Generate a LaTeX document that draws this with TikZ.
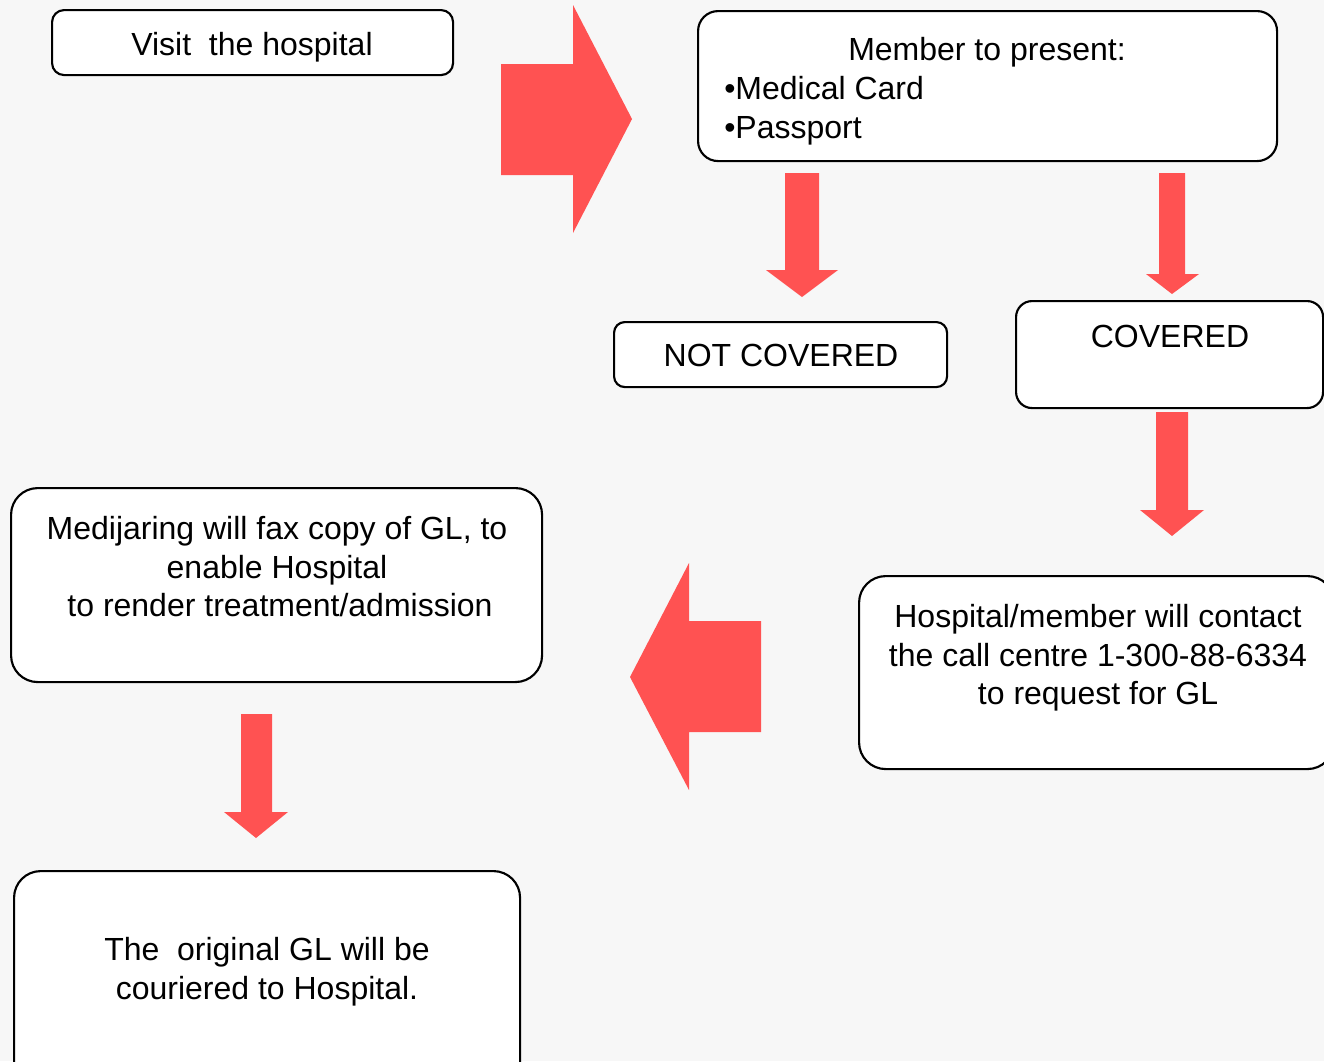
\documentclass[tikz,border=0pt]{standalone}
\usepackage{fontspec}
\setmainfont{Liberation Sans}
\definecolor{bg}{RGB}{247,247,247}
\definecolor{arr}{RGB}{255,82,82}
\begin{document}
\begin{tikzpicture}[x=0.75pt,y=-0.75pt,
  box/.style={draw=black,line width=1.6pt,fill=white,rectangle,inner sep=0pt,anchor=north west},
  txt/.style={font=\fontsize{24}{29}\selectfont,inner sep=0pt,anchor=base},
  blockarrow/.style={fill=arr,draw=none}]
\fill[bg] (0,0) rectangle (1324,1061);
\useasboundingbox (0,0) rectangle (1324,1061);

% boxes
\node[box,rounded corners=9pt,minimum width=401*0.75pt,minimum height=65*0.75pt] (visit) at (51,9) {};
\node[box,rounded corners=15pt,minimum width=579*0.75pt,minimum height=150*0.75pt] (member) at (697,10) {};
\node[box,rounded corners=8pt,minimum width=333*0.75pt,minimum height=65*0.75pt] (notcov) at (613,321) {};
\node[box,rounded corners=12pt,minimum width=307*0.75pt,minimum height=107*0.75pt] (cov) at (1015,300) {};
\node[box,rounded corners=20pt,minimum width=475*0.75pt,minimum height=193*0.75pt] (hosp) at (858,575) {};
\node[box,rounded corners=20pt,minimum width=531*0.75pt,minimum height=194*0.75pt] (medi) at (10,487) {};
\node[box,rounded corners=20pt,minimum width=506*0.75pt,minimum height=220*0.75pt] (orig) at (13,870) {};

% texts
\node[txt] (visitt) at (252,55) {Visit\ \ the hospital};
\node[txt] (memt1) at (987,60) {Member to present:};
\node[txt,anchor=base west] (memt2) at (724,99) {•Medical Card};
\node[txt,anchor=base west] (memt3) at (724,138) {•Passport};
\node[txt] (notcovt) at (781,366) {NOT COVERED};
\node[txt] (covt) at (1170,347) {COVERED};
\node[txt] (hospt1) at (1098,627) {Hospital/member will contact};
\node[txt] (hospt2) at (1098,666) {the call centre 1-300-88-6334};
\node[txt] (hospt3) at (1098,704) {to request for GL};
\node[txt] (medit1) at (277,539) {Medijaring will fax copy of GL, to};
\node[txt] (medit2) at (277,578) {enable Hospital};
\node[txt] (medit3) at (280,616) {to render treatment/admission};
\node[txt] (origt1) at (267,960) {The\ \ original GL will be};
\node[txt] (origt2) at (267,999) {couriered to Hospital.};

% block arrows
\fill[blockarrow] (501,64) -- (573,64) -- (573,5) -- (632,119) -- (573,233) -- (573,175) -- (501,175) -- cycle;
\fill[blockarrow] (785,173) -- (819,173) -- (819,270) -- (838,270) -- (802,297) -- (766,270) -- (785,270) -- cycle;
\fill[blockarrow] (1159,173) -- (1185,173) -- (1185,274) -- (1199,274) -- (1172,294) -- (1146,274) -- (1159,274) -- cycle;
\fill[blockarrow] (1156,412) -- (1188,412) -- (1188,510) -- (1204,510) -- (1172,536) -- (1140,510) -- (1156,510) -- cycle;
\fill[blockarrow] (761,621) -- (689,621) -- (689,563) -- (630,677) -- (689,790) -- (689,732) -- (761,732) -- cycle;
\fill[blockarrow] (241,714) -- (272,714) -- (272,812) -- (288,812) -- (256,838) -- (224,812) -- (241,812) -- cycle;
\end{tikzpicture}
\end{document}
